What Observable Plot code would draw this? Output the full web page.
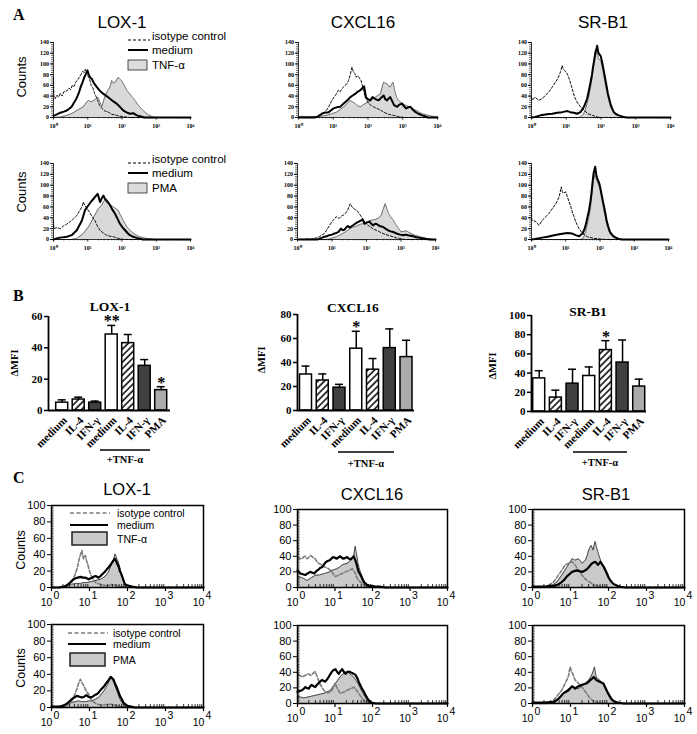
<!DOCTYPE html>
<html><head><meta charset="utf-8">
<script src="https://cdn.jsdelivr.net/npm/d3@7"></script>
<script src="https://cdn.jsdelivr.net/npm/@observablehq/plot@0.6"></script>
<style>
html,body{margin:0;padding:0;background:#fff;}
#page{position:relative;width:697px;height:734px;overflow:hidden;background:#fff;}
</style></head><body><div id="page"></div>
<script>
// ---------------- DATA ----------------
const receptors = ['LOX-1', 'CXCL16', 'SR-B1'];
const legendTNF = ['isotype control', 'medium', 'TNF-α'];
const legendPMA = ['isotype control', 'medium', 'PMA'];
const panelLetters = ['A', 'B', 'C'];
const aTickLabels = ['10⁰', '10¹', '10²', '10³', '10⁴'];
const cTickExponents = ['0', '1', '2', '3', '4'];
const decades = [0, 1, 2, 3, 4];

// Histograms: flat lists of (log10 fluorescence, counts) pairs
// Panel A, row 1 (TNF-α)
const A_LOX_iso = [0,75, 0.01,40, 0.05,35, 0.1,42, 0.15,38, 0.2,45, 0.25,40, 0.3,48, 0.4,50, 0.45,55, 0.5,52, 0.55,60, 0.6,58, 0.65,66, 0.7,70, 0.75,75, 0.8,80, 0.85,86, 0.9,84, 0.93,90, 0.97,82, 1.0,78, 1.05,72, 1.1,60, 1.15,55, 1.2,45, 1.25,38, 1.3,30, 1.35,22, 1.4,18, 1.5,12, 1.6,10, 1.7,6, 1.8,5, 1.9,3, 2.0,2, 2.2,0, 4,0];
const A_LOX_med = [0,3, 0.1,6, 0.2,9, 0.3,11, 0.39,13, 0.45,16, 0.53,20, 0.6,28, 0.65,33, 0.7,40, 0.75,48, 0.8,58, 0.85,66, 0.9,75, 0.95,82, 0.99,88, 1.03,80, 1.07,75, 1.12,72, 1.18,64, 1.26,57, 1.35,50, 1.46,44, 1.55,40, 1.65,35, 1.75,30, 1.84,26, 1.95,19, 2.04,13, 2.15,9, 2.23,7, 2.33,8, 2.43,4, 2.55,2, 2.65,0, 4,0];
const A_LOX_tnf = [0,0, 0.2,1, 0.39,4, 0.55,8, 0.68,13, 0.87,20, 0.95,27, 1.02,32, 1.1,29, 1.2,33, 1.3,38, 1.36,28, 1.41,20, 1.48,35, 1.53,44, 1.6,52, 1.65,57, 1.7,69, 1.75,64, 1.8,66, 1.89,75, 1.95,71, 2.0,68, 2.09,57, 2.15,50, 2.23,44, 2.3,38, 2.38,32, 2.45,25, 2.52,20, 2.6,14, 2.67,10, 2.75,6, 2.8,4, 2.9,1, 3.0,0, 4,0];
const A_CX_iso = [0,0, 0.45,0, 0.55,1, 0.63,4, 0.72,7, 0.8,13, 0.87,20, 0.96,32, 1.06,41, 1.15,51, 1.2,48, 1.25,54, 1.3,57, 1.35,60, 1.4,64, 1.44,69, 1.49,80, 1.54,94, 1.58,85, 1.62,82, 1.66,75, 1.7,78, 1.75,74, 1.8,69, 1.86,54, 1.92,38, 1.97,32, 2.02,26, 2.1,22, 2.16,20, 2.25,17, 2.36,14, 2.45,10, 2.55,7, 2.65,5, 2.74,4, 2.85,2, 2.93,1, 3.05,0, 4,0];
const A_CX_med = [0,0, 0.45,0, 0.53,1, 0.6,4, 0.67,7, 0.75,9, 0.87,10, 0.95,14, 1.01,17, 1.1,19, 1.2,20, 1.28,25, 1.35,29, 1.42,33, 1.49,38, 1.56,41, 1.63,44, 1.7,48, 1.78,51, 1.84,55, 1.89,58, 1.94,38, 2.0,34, 2.07,32, 2.13,38, 2.2,35, 2.25,33, 2.31,32, 2.38,37, 2.45,41, 2.5,34, 2.55,32, 2.6,36, 2.64,38, 2.7,30, 2.75,23, 2.84,20, 2.9,24, 2.98,26, 3.05,20, 3.1,17, 3.16,19, 3.22,20, 3.3,14, 3.37,10, 3.45,7, 3.56,4, 3.65,2, 3.72,0, 4,0];
const A_CX_tnf = [0,2, 0.6,2, 0.7,3, 0.82,4, 0.95,7, 1.1,10, 1.2,15, 1.3,20, 1.4,26, 1.49,32, 1.56,29, 1.63,26, 1.7,22, 1.78,20, 1.85,23, 1.92,26, 2.0,29, 2.07,32, 2.14,35, 2.21,38, 2.28,41, 2.36,44, 2.4,55, 2.45,66, 2.5,64, 2.55,63, 2.6,58, 2.64,57, 2.68,62, 2.72,66, 2.77,50, 2.82,38, 2.88,32, 2.93,29, 3.0,26, 3.08,23, 3.15,21, 3.22,20, 3.3,16, 3.37,14, 3.45,11, 3.56,7, 3.68,5, 3.8,3, 3.9,2, 4.0,1];
const A_SR_iso = [0,38, 0.02,32, 0.1,38, 0.21,32, 0.3,35, 0.4,41, 0.5,48, 0.6,57, 0.69,66, 0.75,72, 0.79,78, 0.84,86, 0.88,97, 0.92,90, 0.95,88, 1.0,84, 1.03,81, 1.07,75, 1.1,69, 1.14,60, 1.17,54, 1.21,45, 1.24,38, 1.31,29, 1.41,20, 1.51,14, 1.62,7, 1.75,4, 1.89,1, 2.0,0, 4,0];
const A_SR_med = [0,0, 0.1,1, 0.26,4, 0.45,6, 0.6,7, 0.74,9, 0.88,10, 0.95,11, 1.03,12, 1.12,10, 1.22,9, 1.31,7, 1.41,10, 1.51,20, 1.6,35, 1.65,50, 1.7,66, 1.74,80, 1.77,94, 1.81,110, 1.84,122, 1.87,128, 1.89,134, 1.92,122, 1.94,119, 1.99,115, 2.03,104, 2.06,94, 2.1,80, 2.13,69, 2.17,55, 2.2,44, 2.24,34, 2.27,26, 2.32,17, 2.37,10, 2.44,6, 2.51,4, 2.6,2, 2.66,1, 2.75,0, 4,0];
const A_SR_tnf = [0,0, 1.35,0, 1.41,1, 1.5,7, 1.55,15, 1.6,26, 1.65,40, 1.7,57, 1.74,72, 1.77,88, 1.81,102, 1.84,115, 1.87,120, 1.89,125, 1.92,112, 1.94,109, 1.99,106, 2.03,95, 2.06,85, 2.1,72, 2.13,60, 2.17,48, 2.2,38, 2.24,28, 2.27,20, 2.32,14, 2.37,9, 2.44,6, 2.51,4, 2.6,2, 2.66,1, 2.75,0, 4,0];
// Panel A, row 2 (PMA)
const A_LOX2_iso = [0,35, 0.01,20, 0.1,22, 0.2,20, 0.29,25, 0.38,28, 0.49,33, 0.58,38, 0.68,44, 0.75,52, 0.83,60, 0.87,69, 0.92,62, 0.97,58, 1.05,50, 1.13,42, 1.21,35, 1.28,25, 1.36,17, 1.45,12, 1.55,8, 1.65,6, 1.75,5, 1.9,2, 2.05,0, 4,0];
const A_LOX2_med = [0,0, 0.15,3, 0.39,5, 0.53,8, 0.68,17, 0.83,35, 0.92,54, 1.02,63, 1.1,70, 1.17,75, 1.23,80, 1.29,84, 1.36,69, 1.41,76, 1.46,81, 1.5,75, 1.55,72, 1.6,68, 1.65,63, 1.72,55, 1.8,47, 1.87,38, 1.94,29, 2.02,22, 2.09,17, 2.16,12, 2.23,8, 2.33,5, 2.43,3, 2.55,1, 2.62,0, 4,0];
const A_LOX2_pma = [0,0, 0.5,0, 0.68,2, 0.87,11, 1.02,23, 1.1,32, 1.17,41, 1.25,50, 1.31,57, 1.36,60, 1.41,63, 1.46,70, 1.5,72, 1.55,68, 1.6,66, 1.68,63, 1.75,60, 1.82,57, 1.89,54, 1.94,47, 1.99,41, 2.04,35, 2.09,29, 2.16,22, 2.23,17, 2.3,13, 2.38,10, 2.45,7, 2.52,5, 2.62,3, 2.72,2, 2.85,1, 2.95,0, 4,0];
const A_CX2_iso = [0,0, 0.2,0, 0.24,1, 0.4,1, 0.55,3, 0.63,5, 0.7,8, 0.78,11, 0.87,20, 0.94,27, 1.0,33, 1.07,38, 1.12,42, 1.17,40, 1.21,39, 1.27,43, 1.33,45, 1.38,48, 1.43,51, 1.48,58, 1.53,66, 1.58,60, 1.63,57, 1.68,55, 1.72,54, 1.77,49, 1.82,45, 1.87,40, 1.91,36, 1.97,31, 2.04,26, 2.1,24, 2.18,20, 2.28,17, 2.38,14, 2.48,11, 2.57,9, 2.67,7, 2.77,5, 2.87,3, 2.96,2, 3.1,0, 4,0];
const A_CX2_med = [0,0, 0.55,0, 0.63,1, 0.7,3, 0.78,5, 0.85,6, 0.92,8, 1.0,9, 1.07,11, 1.13,12, 1.19,14, 1.26,20, 1.31,17, 1.36,18, 1.41,22, 1.46,25, 1.51,22, 1.56,24, 1.65,28, 1.72,31, 1.78,33, 1.84,35, 1.89,37, 1.94,29, 2.0,31, 2.09,33, 2.14,29, 2.19,26, 2.23,28, 2.28,29, 2.33,27, 2.38,25, 2.43,24, 2.48,23, 2.55,20, 2.62,17, 2.7,15, 2.77,14, 2.84,12, 2.91,10, 2.98,9, 3.06,8, 3.13,9, 3.2,8, 3.28,7, 3.35,6, 3.45,4, 3.54,3, 3.64,2, 3.74,1, 3.85,0, 4,0];
const A_CX2_pma = [0,0, 0.8,0, 0.92,1, 1.02,3, 1.12,5, 1.22,8, 1.31,11, 1.39,14, 1.46,17, 1.53,20, 1.6,23, 1.68,24, 1.75,26, 1.82,28, 1.89,29, 1.97,31, 2.04,33, 2.11,35, 2.18,36, 2.26,37, 2.33,39, 2.38,42, 2.43,45, 2.48,55, 2.54,66, 2.59,57, 2.64,48, 2.7,42, 2.77,36, 2.84,29, 2.91,22, 2.96,18, 3.0,14, 3.08,15, 3.16,16, 3.23,13, 3.3,11, 3.4,8, 3.5,6, 3.62,4, 3.74,2, 3.85,1, 3.95,0, 4,0];
const A_SR2_iso = [0,134, 0.005,36, 0.13,33, 0.22,26, 0.32,36, 0.42,42, 0.51,48, 0.61,57, 0.71,66, 0.76,72, 0.81,79, 0.87,97, 0.9,88, 0.93,85, 1.0,88, 1.05,78, 1.1,69, 1.15,60, 1.19,51, 1.24,42, 1.29,33, 1.34,26, 1.39,20, 1.49,11, 1.63,5, 1.83,2, 2.02,1, 2.15,0, 4,0];
const A_SR2_med = [0,0, 0.1,1, 0.27,3, 0.47,5, 0.66,8, 0.85,10, 1.05,12, 1.19,11, 1.29,8, 1.39,6, 1.49,11, 1.54,18, 1.58,26, 1.63,40, 1.68,54, 1.72,70, 1.75,85, 1.78,104, 1.81,121, 1.86,134, 1.89,120, 1.92,112, 1.95,108, 1.98,103, 2.01,95, 2.04,85, 2.08,72, 2.12,60, 2.16,47, 2.19,36, 2.24,24, 2.29,14, 2.35,9, 2.41,5, 2.48,3, 2.55,1, 2.65,0, 4,0];
const A_SR2_pma = [0,0, 1.4,0, 1.49,1, 1.54,7, 1.58,14, 1.63,28, 1.68,42, 1.72,58, 1.75,75, 1.78,92, 1.81,109, 1.86,121, 1.89,112, 1.92,106, 1.95,102, 1.98,97, 2.01,88, 2.04,79, 2.08,65, 2.12,51, 2.16,40, 2.19,29, 2.24,19, 2.29,11, 2.35,7, 2.41,4, 2.48,2, 2.55,1, 2.65,0, 4,0];
// Panel C, row 1 (TNF-α)
const C_LOX_iso = [0,0, 0.3,0, 0.4,2, 0.47,4, 0.53,6, 0.58,11, 0.62,16, 0.65,20, 0.68,24, 0.71,31, 0.74,37, 0.77,41, 0.8,45, 0.84,35, 0.89,39, 0.92,33, 0.95,29, 1.0,20, 1.03,16, 1.07,12, 1.11,9, 1.16,6, 1.22,5, 1.29,4, 1.35,3, 1.47,2, 1.55,3, 1.6,4, 1.66,3, 1.73,2, 1.82,1, 1.91,1, 2.0,0, 4,0];
const C_LOX_med = [0,0, 0.2,0, 0.31,1, 0.38,2, 0.44,4, 0.49,6, 0.53,8, 0.58,10, 0.62,11, 0.69,12, 0.76,13, 0.82,12, 0.89,12, 0.94,11, 0.98,10, 1.02,11, 1.07,12, 1.11,13, 1.16,14, 1.2,13, 1.24,12, 1.29,14, 1.33,16, 1.38,18, 1.42,20, 1.47,23, 1.51,25, 1.56,28, 1.6,31, 1.63,33, 1.67,35, 1.7,32, 1.73,29, 1.77,25, 1.8,20, 1.84,16, 1.87,12, 1.9,8, 1.93,4, 1.98,3, 2.04,2, 2.12,1, 2.25,0, 4,0];
const C_LOX_tnf = [0,0, 0.3,0, 0.4,1, 0.53,4, 0.65,5, 0.76,5, 0.85,6, 0.93,6, 1.02,7, 1.11,8, 1.2,9, 1.29,10, 1.36,12, 1.42,14, 1.47,17, 1.51,20, 1.54,24, 1.57,27, 1.6,30, 1.63,33, 1.65,37, 1.67,41, 1.7,38, 1.72,35, 1.76,31, 1.79,26, 1.82,20, 1.85,15, 1.88,10, 1.92,5, 1.96,2, 2.02,0, 4,0];
const C_CX_iso = [0,60, 0.005,39, 0.06,37, 0.12,37, 0.16,39, 0.21,40, 0.25,37, 0.29,38, 0.34,41, 0.38,40, 0.43,38, 0.47,37, 0.52,33, 0.56,31, 0.6,30, 0.65,29, 0.7,27, 0.74,26, 0.79,25, 0.83,24, 0.88,22, 0.92,20, 0.97,16, 1.01,14, 1.06,15, 1.1,16, 1.15,17, 1.19,18, 1.24,19, 1.28,20, 1.33,21, 1.37,22, 1.42,23, 1.46,24, 1.49,22, 1.52,20, 1.56,16, 1.59,12, 1.63,9, 1.68,7, 1.73,5, 1.79,3, 1.87,2, 1.95,1, 2.1,0, 4,0];
const C_CX_med = [0,22, 0.04,20, 0.07,18, 0.14,17, 0.21,16, 0.27,18, 0.34,20, 0.4,19, 0.45,18, 0.5,21, 0.56,23, 0.6,25, 0.65,26, 0.7,29, 0.74,32, 0.8,34, 0.86,35, 0.9,37, 0.95,39, 1.0,38, 1.05,37, 1.1,39, 1.14,40, 1.18,38, 1.23,37, 1.28,38, 1.32,39, 1.37,37, 1.41,36, 1.46,38, 1.5,40, 1.54,35, 1.57,31, 1.6,25, 1.63,20, 1.67,17, 1.7,14, 1.74,10, 1.77,7, 1.82,5, 1.86,3, 1.93,2, 1.99,2, 2.1,1, 2.21,1, 2.35,0, 4,0];
const C_CX_tnf = [0,14, 0.1,13, 0.15,12, 0.25,9, 0.32,11, 0.38,13, 0.45,15, 0.52,16, 0.58,16, 0.65,17, 0.72,18, 0.79,19, 0.85,20, 0.92,22, 0.98,23, 1.05,24, 1.12,26, 1.19,29, 1.25,30, 1.32,31, 1.38,33, 1.43,35, 1.47,38, 1.5,41, 1.52,47, 1.54,53, 1.56,46, 1.59,39, 1.61,32, 1.64,26, 1.67,21, 1.71,16, 1.75,11, 1.79,7, 1.85,4, 1.9,3, 1.97,1, 2.05,0, 4,0];
const C_SR_iso = [0,0, 0.3,0, 0.37,1, 0.46,4, 0.55,7, 0.62,11, 0.68,16, 0.73,19, 0.77,22, 0.82,26, 0.86,29, 0.91,30, 0.95,31, 1.0,32, 1.04,33, 1.08,31, 1.12,29, 1.17,25, 1.21,22, 1.26,19, 1.3,16, 1.37,12, 1.43,9, 1.5,7, 1.57,5, 1.63,3, 1.7,2, 1.79,1, 1.88,1, 2.0,0, 4,0];
const C_SR_med = [0,1, 0.3,1, 0.46,2, 0.55,2, 0.64,3, 0.71,5, 0.77,7, 0.84,10, 0.9,14, 0.97,17, 1.04,20, 1.1,21, 1.17,22, 1.23,21, 1.3,20, 1.35,21, 1.39,22, 1.44,24, 1.48,26, 1.53,29, 1.57,31, 1.61,32, 1.65,33, 1.69,31, 1.72,29, 1.76,31, 1.79,33, 1.84,29, 1.88,26, 1.92,22, 1.96,18, 2.0,13, 2.05,9, 2.12,5, 2.19,3, 2.25,2, 2.32,1, 2.45,0, 4,0];
const C_SR_tnf = [0,0, 0.4,0, 0.46,1, 0.55,4, 0.64,7, 0.7,11, 0.77,16, 0.84,21, 0.9,26, 0.97,31, 1.04,37, 1.08,36, 1.12,35, 1.17,36, 1.21,37, 1.26,34, 1.3,31, 1.35,33, 1.39,35, 1.44,41, 1.48,48, 1.51,51, 1.54,54, 1.57,51, 1.59,48, 1.62,54, 1.65,59, 1.68,52, 1.72,46, 1.75,41, 1.79,35, 1.84,29, 1.88,24, 1.92,20, 1.96,16, 2.01,11, 2.07,7, 2.13,5, 2.19,3, 2.25,2, 2.32,1, 2.4,0, 4,0];
// Panel C, row 2 (PMA)
const C_LOX2_iso = [0,0, 0.3,0, 0.36,1, 0.45,4, 0.53,8, 0.59,13, 0.65,20, 0.7,27, 0.73,31, 0.76,34, 0.8,30, 0.83,28, 0.86,25, 0.89,22, 0.93,19, 0.98,16, 1.02,12, 1.07,8, 1.13,6, 1.2,4, 1.29,3, 1.38,3, 1.47,4, 1.56,4, 1.65,3, 1.73,2, 1.82,1, 1.91,1, 2.0,0, 4,0];
const C_LOX2_med = [0,1, 0.2,1, 0.31,2, 0.38,4, 0.44,6, 0.49,8, 0.53,10, 0.6,12, 0.67,14, 0.74,13, 0.8,12, 0.86,13, 0.92,15, 0.97,13, 1.02,12, 1.08,13, 1.14,15, 1.19,16, 1.24,18, 1.29,21, 1.33,23, 1.39,26, 1.45,30, 1.5,33, 1.56,37, 1.6,35, 1.63,34, 1.67,29, 1.72,24, 1.76,19, 1.8,14, 1.85,10, 1.89,6, 1.94,4, 2.0,2, 2.1,1, 2.2,0, 4,0];
const C_LOX2_pma = [0,0, 0.3,0, 0.4,2, 0.47,4, 0.53,6, 0.62,7, 0.71,8, 0.8,7, 0.89,7, 0.98,8, 1.07,8, 1.15,10, 1.24,12, 1.31,16, 1.38,20, 1.43,24, 1.48,28, 1.53,33, 1.57,37, 1.6,34, 1.64,30, 1.68,25, 1.72,20, 1.76,15, 1.8,10, 1.85,6, 1.89,3, 1.95,1, 2.0,0, 4,0];
const C_CX2_iso = [0,58, 0.005,38, 0.06,36, 0.12,34, 0.2,36, 0.29,38, 0.35,36, 0.4,38, 0.47,41, 0.52,35, 0.56,30, 0.6,25, 0.65,21, 0.7,17, 0.74,15, 0.79,14, 0.83,14, 0.88,15, 0.92,17, 0.97,22, 1.01,26, 1.05,20, 1.09,17, 1.14,13, 1.2,14, 1.26,15, 1.32,17, 1.37,18, 1.41,19, 1.46,20, 1.5,21, 1.54,19, 1.57,17, 1.62,14, 1.66,11, 1.72,7, 1.77,4, 1.84,2, 1.9,1, 2.05,0, 4,0];
const C_CX2_med = [0,15, 0.06,16, 0.12,17, 0.17,19, 0.21,21, 0.25,20, 0.3,19, 0.34,22, 0.38,24, 0.43,22, 0.47,21, 0.52,24, 0.56,26, 0.6,28, 0.65,30, 0.7,29, 0.74,28, 0.79,31, 0.83,34, 0.88,38, 0.92,41, 0.97,43, 1.01,44, 1.05,41, 1.1,38, 1.14,41, 1.19,44, 1.23,41, 1.28,38, 1.32,40, 1.37,41, 1.41,40, 1.46,39, 1.5,38, 1.54,37, 1.59,33, 1.63,28, 1.68,23, 1.72,19, 1.77,15, 1.81,11, 1.86,7, 1.9,4, 1.95,2, 1.99,1, 2.1,0, 4,0];
const C_CX2_pma = [0,9, 0.1,8, 0.16,7, 0.25,8, 0.34,9, 0.43,10, 0.52,11, 0.61,12, 0.7,13, 0.79,15, 0.88,17, 0.95,22, 1.01,26, 1.06,29, 1.1,32, 1.15,35, 1.19,37, 1.25,39, 1.3,41, 1.35,40, 1.39,38, 1.45,36, 1.5,34, 1.55,30, 1.61,26, 1.66,21, 1.7,17, 1.75,13, 1.79,9, 1.84,5, 1.9,2, 1.95,1, 2.02,0, 4,0];
const C_SR2_iso = [0,0, 0.35,0, 0.46,1, 0.55,4, 0.64,9, 0.7,13, 0.77,17, 0.82,22, 0.86,26, 0.91,31, 0.95,36, 0.99,47, 1.02,42, 1.06,38, 1.09,34, 1.12,30, 1.17,28, 1.21,26, 1.26,23, 1.3,21, 1.35,18, 1.39,15, 1.44,12, 1.48,9, 1.53,6, 1.59,4, 1.66,2, 1.74,1, 1.85,0, 4,0];
const C_SR2_med = [0,1, 0.3,1, 0.55,2, 0.62,4, 0.68,6, 0.74,9, 0.81,13, 0.88,15, 0.95,17, 1.0,20, 1.04,22, 1.08,21, 1.12,19, 1.17,21, 1.21,22, 1.26,23, 1.3,24, 1.37,25, 1.43,26, 1.48,28, 1.52,30, 1.57,32, 1.61,34, 1.65,32, 1.68,30, 1.72,29, 1.77,28, 1.81,27, 1.86,26, 1.9,22, 1.95,17, 1.99,13, 2.04,9, 2.09,5, 2.14,3, 2.2,2, 2.27,1, 2.4,0, 4,0];
const C_SR2_pma = [0,0, 0.5,0, 0.55,1, 0.62,3, 0.68,5, 0.74,9, 0.81,13, 0.88,16, 0.95,19, 1.01,20, 1.08,21, 1.15,20, 1.21,19, 1.28,22, 1.35,24, 1.41,27, 1.48,30, 1.53,34, 1.57,38, 1.6,42, 1.63,47, 1.66,38, 1.68,34, 1.72,32, 1.77,30, 1.82,27, 1.88,24, 1.92,19, 1.96,15, 2.0,10, 2.05,6, 2.12,3, 2.19,1, 2.28,0, 4,0];

// Panel B bar charts (ΔMFI)
const barCats = ['medium', 'IL-4', 'IFN-γ', 'medium', 'IL-4', 'IFN-γ', 'PMA'];
const tnfLabel = '+TNF-α';
const yLabelB = 'ΔMFI';
const LOX_vals = [5, 7, 5, 48.5, 43, 28.5, 13];
const LOX_errs = [1.8, 1.5, 1, 5.8, 5.5, 4, 2.2];
const LOX_stars = ['', '', '', '**', '', '', '*'];
const CX_vals = [30, 25, 19, 51.5, 34, 52, 44.5];
const CX_errs = [7, 5.5, 2.8, 14.5, 9.3, 16, 14];
const CX_stars = ['', '', '', '*', '', '', ''];
const SR_vals = [34.5, 14.5, 29, 37, 64, 51, 26];
const SR_errs = [8, 7.7, 15, 9.4, 9.8, 23.5, 7.7];
const SR_stars = ['', '', '', '', '*', '', ''];

// ---------------- DRAWING ----------------
const SANS = 'Liberation Sans, Arial, Helvetica, sans-serif';
const SERIF = 'Liberation Serif, Times New Roman, serif';
const page = document.getElementById('page');
const toPts = arr => { const out = []; for (let i = 0; i < arr.length; i += 2) out.push({x: arr[i], y: arr[i + 1]}); return out; };
const minorX = []; for (let d = 0; d < 4; d++) for (let k = 2; k < 10; k++) minorX.push(d + Math.log10(k));

function place(svg, left, top) {
  svg.style.position = 'absolute';
  svg.style.left = left + 'px';
  svg.style.top = top + 'px';
  page.appendChild(svg);
}

function hist(cfg) {
  const {fx0, fx1, fy0, fy1, ymax, iso, med, fill, style} = cfg;
  const ml = 45, mr = 12, mt = 8, mb = 28;
  const fw = fx1 - fx0, fh = fy1 - fy0;
  const W = ml + fw + mr, H = mt + fh + mb;
  const isoD = toPts(iso), medD = toPts(med), fillD = toPts(fill);
  let marks;
  if (style === 'A') {
    marks = [
      Plot.areaY(fillD, {x: 'x', y: 'y', fill: '#d9d9d9'}),
      Plot.lineY(fillD, {x: 'x', y: 'y', stroke: '#555', strokeWidth: 0.8}),
      Plot.lineY(isoD, {x: 'x', y: 'y', stroke: '#111', strokeWidth: 1, strokeDasharray: '2.5,1.8'}),
      Plot.lineY(medD, {x: 'x', y: 'y', stroke: '#000', strokeWidth: 2}),
      Plot.ruleX([0], {stroke: '#000', strokeWidth: 0.8}),
      Plot.ruleY([0], {stroke: '#000', strokeWidth: 0.8}),
      Plot.axisY({ticks: d3.range(0, ymax + 1, 20), tickSize: 3, tickPadding: 1.5, fontSize: 6, fontFamily: SERIF, fontWeight: 'bold', fill: '#000', label: null}),
      Plot.tickY(d3.range(0, ymax + 1, 4), {y: d => d, insetRight: fw + 0, insetLeft: -2, stroke: '#000', strokeWidth: 0.6}),
      Plot.ruleX(decades, {x: d => d, y1: 0, y2: -ymax * 0.035, strokeWidth: 0.8}),
      Plot.ruleX(minorX, {x: d => d, y1: 0, y2: -ymax * 0.018, strokeWidth: 0.6}),
      Plot.text(decades, {x: d => d, y: 0, text: d => aTickLabels[d], dy: 9, fontSize: 6, fontFamily: SERIF, fontWeight: 'bold', fill: '#000'})
    ];
  } else {
    marks = [
      Plot.areaY(fillD, {x: 'x', y: 'y', fill: '#cacaca'}),
      Plot.lineY(fillD, {x: 'x', y: 'y', stroke: '#444', strokeWidth: 1}),
      Plot.lineY(isoD, {x: 'x', y: 'y', stroke: '#7c7c7c', strokeWidth: 1.6, strokeDasharray: '3.5,2'}),
      Plot.lineY(medD, {x: 'x', y: 'y', stroke: '#000', strokeWidth: 2.2}),
      Plot.frame({stroke: '#000', strokeWidth: 1.5}),
      Plot.axisY({ticks: d3.range(0, ymax + 1, 20), tickSize: 4, tickPadding: 2, fontSize: 11, fontFamily: SANS, label: null}),
      Plot.tickY(d3.range(0, ymax + 1, 2), {y: d => d, insetRight: fw - 2.5, stroke: '#000', strokeWidth: 0.7}),
      Plot.tickX(minorX, {x: d => d, insetTop: fh - 3, stroke: '#000', strokeWidth: 0.8}),
      Plot.ruleX(decades, {x: d => d, y1: 0, y2: -ymax * 0.05, strokeWidth: 1.2}),
      Plot.text(decades, {x: d => d, y: 0, text: () => '10', dy: 15, dx: -5, fontSize: 10.5, fontFamily: SANS}),
      Plot.text(decades, {x: d => d, y: 0, text: d => cTickExponents[d], dy: 8, dx: 5, fontSize: 10.5, fontFamily: SANS})
    ];
  }
  const svg = Plot.plot({
    width: W, height: H,
    marginLeft: ml, marginRight: mr, marginTop: mt, marginBottom: mb,
    x: {domain: [0, 4], axis: null},
    y: {domain: [0, ymax]},
    style: {background: 'none', overflow: 'visible', fontFamily: SANS, color: '#000'},
    marks
  });
  place(svg, fx0 - ml, fy0 - mt);
}

const histConfigs = [
  {style: 'A', ymax: 140, fx0: 53, fx1: 190, fy0: 42, fy1: 117, iso: A_LOX_iso, med: A_LOX_med, fill: A_LOX_tnf},
  {style: 'A', ymax: 140, fx0: 298, fx1: 437, fy0: 42, fy1: 117, iso: A_CX_iso, med: A_CX_med, fill: A_CX_tnf},
  {style: 'A', ymax: 140, fx0: 531, fx1: 670, fy0: 42, fy1: 117, iso: A_SR_iso, med: A_SR_med, fill: A_SR_tnf},
  {style: 'A', ymax: 140, fx0: 53, fx1: 190, fy0: 163, fy1: 239, iso: A_LOX2_iso, med: A_LOX2_med, fill: A_LOX2_pma},
  {style: 'A', ymax: 140, fx0: 297, fx1: 435, fy0: 163, fy1: 239, iso: A_CX2_iso, med: A_CX2_med, fill: A_CX2_pma},
  {style: 'A', ymax: 140, fx0: 531, fx1: 668, fy0: 163, fy1: 239, iso: A_SR2_iso, med: A_SR2_med, fill: A_SR2_pma},
  {style: 'C', ymax: 100, fx0: 51, fx1: 203, fy0: 505, fy1: 587, iso: C_LOX_iso, med: C_LOX_med, fill: C_LOX_tnf},
  {style: 'C', ymax: 100, fx0: 297, fx1: 447, fy0: 509, fy1: 587, iso: C_CX_iso, med: C_CX_med, fill: C_CX_tnf},
  {style: 'C', ymax: 100, fx0: 532, fx1: 684, fy0: 509, fy1: 587, iso: C_SR_iso, med: C_SR_med, fill: C_SR_tnf},
  {style: 'C', ymax: 100, fx0: 51, fx1: 203, fy0: 624, fy1: 707, iso: C_LOX2_iso, med: C_LOX2_med, fill: C_LOX2_pma},
  {style: 'C', ymax: 100, fx0: 297, fx1: 447, fy0: 625, fy1: 703, iso: C_CX2_iso, med: C_CX2_med, fill: C_CX2_pma},
  {style: 'C', ymax: 100, fx0: 532, fx1: 684, fy0: 625, fy1: 703, iso: C_SR2_iso, med: C_SR2_med, fill: C_SR2_pma}
];
histConfigs.forEach(hist);

function barChart(cfg, idx) {
  const {c0, step, fx0, fx1, fy0, fy1, ymax, vals, errs, stars} = cfg;
  const ml = 35, mr = 14, mt = 28, mb = 62;
  const fw = fx1 - fx0, fh = fy1 - fy0;
  const xd0 = (fx0 - c0) / step, xd1 = (fx1 - c0) / step;
  const hw = 6 / step, cw = 4 / step;
  const hatchId = 'hatch' + idx;
  const fillFor = c => c === 'medium' ? '#ffffff' : c === 'IL-4' ? `url(#${hatchId})` : c === 'IFN-γ' ? '#404040' : '#ababab';
  const data = barCats.map((c, i) => ({i, c, v: vals[i], e: errs[i], s: stars[i]}));
  const svg = Plot.plot({
    width: ml + fw + mr, height: mt + fh + mb,
    marginLeft: ml, marginRight: mr, marginTop: mt, marginBottom: mb,
    x: {domain: [xd0, xd1], axis: null},
    y: {domain: [0, ymax]},
    color: {type: 'identity'},
    style: {background: 'none', overflow: 'visible', fontFamily: SERIF, color: '#000'},
    marks: [
      Plot.ruleX(data, {x: 'i', y1: 'v', y2: d => d.v + d.e, stroke: '#000', strokeWidth: 1.5}),
      Plot.ruleY(data, {y: d => d.v + d.e, x1: d => d.i - cw, x2: d => d.i + cw, stroke: '#000', strokeWidth: 1.5}),
      Plot.rect(data, {x1: d => d.i - hw, x2: d => d.i + hw, y1: 0, y2: 'v', fill: d => fillFor(d.c), stroke: '#000', strokeWidth: 1.5}),
      Plot.text(data.filter(d => d.s), {x: 'i', y: d => d.v + d.e, text: 's', lineAnchor: 'bottom', dy: 1, fontSize: 16, fontWeight: 'bold', fontFamily: SERIF}),
      Plot.ruleX([xd0], {stroke: '#000', strokeWidth: 1.8}),
      Plot.ruleY([0], {stroke: '#000', strokeWidth: 1.8}),
      Plot.axisY({ticks: d3.range(0, ymax + 1, 20), tickSize: 4, tickPadding: 2, fontSize: 11, fontFamily: SERIF, fontWeight: 'bold', strokeWidth: 1.5, label: null}),
      Plot.text(data, {x: 'i', y: 0, text: 'c', rotate: -45, textAnchor: 'end', lineAnchor: 'middle', dx: 3, dy: 8, fontSize: 11, fontWeight: 'bold', fontFamily: SERIF})
    ]
  });
  d3.select(svg).insert('defs', ':first-child').html(
    `<pattern id="${hatchId}" width="4.6" height="4.6" patternUnits="userSpaceOnUse" patternTransform="rotate(45)">` +
    `<rect width="4.6" height="4.6" fill="#fff"></rect><line x1="1" y1="0" x2="1" y2="4.6" stroke="#000" stroke-width="1.5"></line></pattern>`);
  place(svg, fx0 - ml, fy0 - mt);
}

const barConfigs = [
  {c0: 61.7, step: 16.5, fx0: 48, fx1: 170, fy0: 316, fy1: 410, ymax: 60, vals: LOX_vals, errs: LOX_errs, stars: LOX_stars},
  {c0: 305.5, step: 16.75, fx0: 297, fx1: 414, fy0: 314, fy1: 410, ymax: 80, vals: CX_vals, errs: CX_errs, stars: CX_stars},
  {c0: 538.7, step: 16.67, fx0: 531, fx1: 646, fy0: 315, fy1: 411, ymax: 100, vals: SR_vals, errs: SR_errs, stars: SR_stars}
];
barConfigs.forEach(barChart);

// ---------------- Annotations overlay ----------------
const ov = d3.select(page).append('svg').attr('width', 697).attr('height', 734)
  .style('position', 'absolute').style('left', '0px').style('top', '0px').style('overflow', 'visible');
function T(x, y, s, size, o = {}) {
  const t = ov.append('text').attr('x', x).attr('y', y).attr('font-size', size)
    .attr('font-family', o.family || SANS).attr('text-anchor', o.anchor || 'start').attr('fill', '#000').text(s);
  if (o.weight) t.attr('font-weight', o.weight);
  if (o.central) t.attr('dominant-baseline', 'central');
  if (o.rotate) t.attr('transform', `rotate(${o.rotate},${x},${y})`);
  return t;
}
// panel letters
T(13, 20, panelLetters[0], 16, {family: SERIF, weight: 'bold'});
T(13, 301, panelLetters[1], 16, {family: SERIF, weight: 'bold'});
T(13, 483, panelLetters[2], 16, {family: SERIF, weight: 'bold'});
// titles
[[122, 28], [363, 28], [603, 28]].forEach(([x, y], i) => T(x, y, receptors[i], 17, {anchor: 'middle'}));
[[127, 495], [372, 500], [606, 500]].forEach(([x, y], i) => T(x, y, receptors[i], 16.5, {anchor: 'middle'}));
[[110, 311], [353, 312], [588, 316]].forEach(([x, y], i) => T(x, y, receptors[i], 13.5, {anchor: 'middle', family: SERIF, weight: 'bold'}));
// Counts labels
[[21, 77, 13], [21, 192, 13], [21, 550, 12.5], [21, 668, 12.5]].forEach(([x, y, s]) => T(x, y, 'Counts', s, {anchor: 'middle', central: true, rotate: -90}));
// ΔMFI labels
[[14, 363], [261, 360], [492, 366]].forEach(([x, y]) => T(x, y, yLabelB, 10.5, {anchor: 'middle', central: true, rotate: -90, family: SERIF, weight: 'bold'}));
// +TNF brackets
[[100, 150, 450, 463], [338, 394, 452, 467], [573, 627, 452, 466]].forEach(([a, b, y, ty]) => {
  ov.append('line').attr('x1', a).attr('x2', b).attr('y1', y).attr('y2', y).attr('stroke', '#000').attr('stroke-width', 1.5);
  T((a + b) / 2, ty, tnfLabel, 10.5, {anchor: 'middle', family: SERIF, weight: 'bold'});
});
// legends
function legend(x, ys, labels, o) {
  const [yIso, yMed, boxTop, boxH, textX] = ys;
  ov.append('line').attr('x1', x).attr('x2', x + o.len).attr('y1', yIso).attr('y2', yIso)
    .attr('stroke', o.isoColor).attr('stroke-width', o.isoW).attr('stroke-dasharray', o.dash);
  ov.append('line').attr('x1', x).attr('x2', x + o.len - 2).attr('y1', yMed).attr('y2', yMed)
    .attr('stroke', '#000').attr('stroke-width', o.medW);
  ov.append('rect').attr('x', x + o.boxDx).attr('y', boxTop).attr('width', o.len - 3 - o.boxDx).attr('height', boxH)
    .attr('fill', o.boxFill).attr('stroke', '#222').attr('stroke-width', o.boxW);
  T(textX, yIso - o.isoTextUp, labels[0], o.size, {central: true});
  T(textX, yMed, labels[1], o.size, {central: true});
  T(textX, boxTop + boxH / 2, labels[2], o.size, {central: true});
}
const legA = {len: 22, isoColor: '#000', isoW: 1.2, dash: '3,2', medW: 2, boxDx: 0, boxFill: '#dcdcdc', boxW: 0.8, size: 11.5, isoTextUp: 4};
legend(128, [40, 50, 60, 10, 152], legendTNF, legA);
legend(128, [163, 173, 183, 10, 152], legendPMA, legA);
const legC = {len: 40, isoColor: '#7c7c7c', isoW: 1.6, dash: '4,2.5', medW: 2, boxDx: 2, boxFill: '#cacaca', boxW: 1.5, size: 10.5, isoTextUp: 0};
legend(70, [513, 525, 532, 13, 117], legendTNF, legC);
legend(68, [633, 644, 653, 13, 113], legendPMA, legC);
</script></body></html>
